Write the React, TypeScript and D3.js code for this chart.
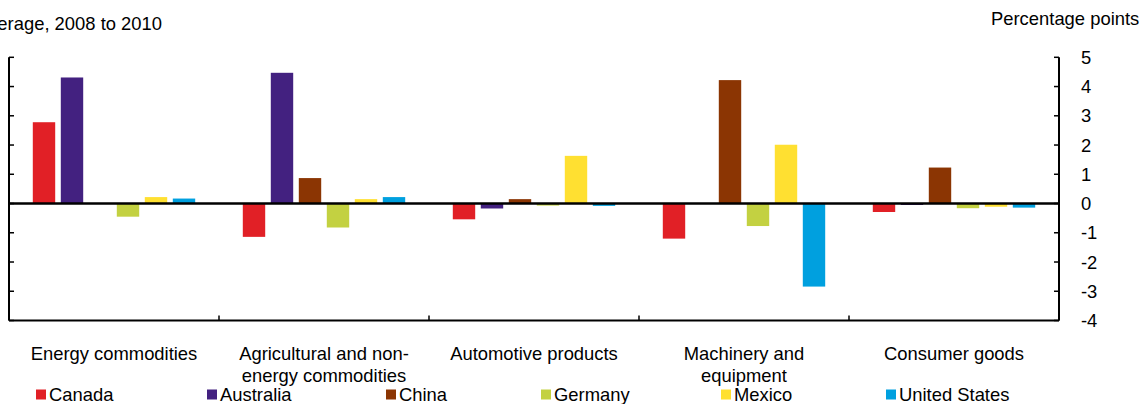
import React from "react";
import * as d3 from "d3";

const categories = [
  ["Energy commodities"],
  ["Agricultural and non-", "energy commodities"],
  ["Automotive products"],
  ["Machinery and", "equipment"],
  ["Consumer goods"],
];
const series = ["Canada", "Australia", "China", "Germany", "Mexico", "United States"];
const colors = ["#E12026", "#432180", "#8B3503", "#C3D141", "#FFE031", "#00A0DF"];

const canada = [2.78, -1.14, -0.54, -1.2, -0.29];
const australia = [4.31, 4.47, -0.17, 0, -0.05];
const china = [0, 0.87, 0.15, 4.22, 1.23];
const germany = [-0.45, -0.82, -0.07, -0.77, -0.16];
const mexico = [0.22, 0.15, 1.63, 2.01, -0.11];
const unitedStates = [0.17, 0.22, -0.08, -2.84, -0.14];
const values = [canada, australia, china, germany, mexico, unitedStates];

const yTicks = [5, 4, 3, 2, 1, 0, -1, -2, -3, -4];

const W = 1145;
const H = 404;
const left = 9;
const right = 1059;
const top = 57.3;
const bottom = 320.5;
const legendX = [36, 207, 386, 541, 721, 886];
const FONT = "'Liberation Sans', Arial, sans-serif";
const FS = 18.4;

export default function App() {
  const x0 = d3.scaleBand<number>().domain(d3.range(categories.length)).range([left, right]);
  const x1 = d3
    .scaleBand<number>()
    .domain(d3.range(series.length))
    .range([21, x0.bandwidth() - 21])
    .paddingInner(0.2)
    .paddingOuter(0.1);
  const y = d3.scaleLinear().domain([-4, 5]).range([bottom, top]);

  return (
    <svg
      width={W}
      height={H}
      style={{ position: "absolute", left: 0, top: 0, fontFamily: FONT }}
    >
      <text x={162} y={30} fontSize={FS} textAnchor="end" fill="#000">
        average, 2008 to 2010
      </text>
      <text x={991} y={25} fontSize={FS} fill="#000">
        Percentage points
      </text>

      {values.map((vals, si) =>
        vals.map((v, ci) => {
          const bx = (x0(ci) as number) + (x1(si) as number);
          const y0 = y(0);
          const yv = y(v);
          return (
            <rect
              key={`${si}-${ci}`}
              x={bx}
              y={Math.min(y0, yv)}
              width={x1.bandwidth()}
              height={Math.abs(yv - y0)}
              fill={colors[si]}
            />
          );
        })
      )}

      {/* left axis */}
      <line x1={left} x2={left} y1={top} y2={bottom} stroke="#000" strokeWidth={2} />
      {yTicks.map((t) => (
        <line key={`lt${t}`} x1={left} x2={left + 5} y1={y(t)} y2={y(t)} stroke="#000" strokeWidth={1.5} />
      ))}
      {/* right axis */}
      <line x1={right} x2={right} y1={top} y2={bottom} stroke="#000" strokeWidth={2} />
      {yTicks.map((t) => (
        <g key={`rt${t}`}>
          <line x1={right - 5} x2={right} y1={y(t)} y2={y(t)} stroke="#000" strokeWidth={1.5} />
          <text x={1081} y={y(t) + 6.5} fontSize={FS} fill="#000">
            {t}
          </text>
        </g>
      ))}
      {/* bottom axis */}
      <line x1={left} x2={right} y1={bottom} y2={bottom} stroke="#000" strokeWidth={2} />
      {d3.range(categories.length + 1).map((i) => {
        const xx = i < categories.length ? (x0(i) as number) : right;
        return <line key={`ct${i}`} x1={xx} x2={xx} y1={bottom - 5} y2={bottom} stroke="#000" strokeWidth={1.5} />;
      })}
      {/* zero line */}
      <line x1={left} x2={right} y1={y(0)} y2={y(0)} stroke="#000" strokeWidth={2.5} />

      {categories.map((lines, ci) => (
        <text
          key={`cl${ci}`}
          x={(x0(ci) as number) + x0.bandwidth() / 2}
          y={360}
          fontSize={FS}
          textAnchor="middle"
          fill="#000"
        >
          {lines.map((l, li) => (
            <tspan key={li} x={(x0(ci) as number) + x0.bandwidth() / 2} dy={li === 0 ? 0 : 21.5}>
              {l}
            </tspan>
          ))}
        </text>
      ))}

      {series.map((s, si) => (
        <g key={`lg${si}`}>
          <rect x={legendX[si]} y={389.5} width={10} height={10} fill={colors[si]} />
          <text x={legendX[si] + 13} y={401} fontSize={FS} fill="#000">
            {s}
          </text>
        </g>
      ))}
    </svg>
  );
}
